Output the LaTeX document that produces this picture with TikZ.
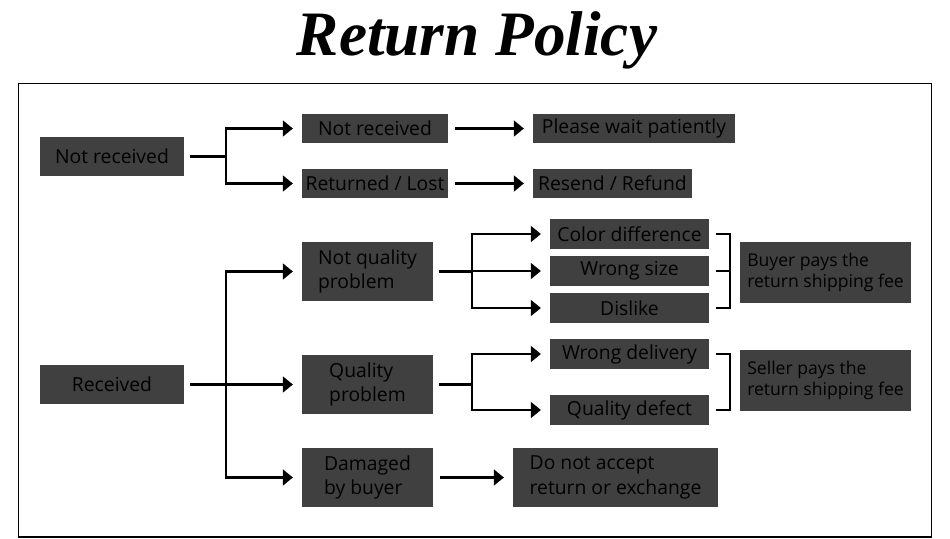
\documentclass[tikz,border=0pt]{standalone}
\usepackage{fontspec}
\setmainfont{Open Sans}
\newfontfamily\titlefont{Liberation Serif}
\usetikzlibrary{arrows.meta}
\definecolor{boxgray}{HTML}{404040}
\tikzset{
  box/.style={fill=boxgray, text=black, inner sep=2pt, font=\fontsize{11}{14}\selectfont, align=left},
  smallbox/.style={box, font=\fontsize{10}{12}\selectfont},
  line/.style={line width=1.2pt, black},
  arr/.style={line, -{Triangle[length=5.7pt,width=9pt]}, shorten >=5pt}
}

\begin{document}
\begin{tikzpicture}[x=0.02cm,y=-0.02cm]
                \useasboundingbox (0,0) rectangle (950,538);
                %title and outer frame
                \node (title) at (477,40) {\titlefont\fontsize{36}{40}\selectfont\bfseries\itshape Return Policy};
                \draw[line width=0.7pt] (18.5,83.5) rectangle (931.5,537);

                %first group, parcel not received
                \node (A) at (112,156.5) [box, minimum width=28.8mm, minimum height=7.8mm]{Not received};
                \node (B) at (375,128.5) [box, minimum width=29.2mm, minimum height=5.8mm]{Not received};
                \node (C) at (375,183.5) [box, minimum width=29.2mm, minimum height=5.8mm]{Returned / Lost};
                \node (D) at (634,128.5) [box, minimum width=40.4mm, minimum height=5.8mm]{Please wait patiently};
                \node (E) at (612.5,183.5) [box, minimum width=31.8mm, minimum height=5.8mm]{Resend / Refund};

                \coordinate (j1) at (226,156.5);
                \draw[line, shorten <=3.4pt] (A.east) -- (j1);
                \draw[arr] (j1) |- (B.west);
                \draw[arr] (j1) |- (C.west);
                \draw[arr, shorten <=4pt] (B.east) -- (D.west);
                \draw[arr, shorten <=4pt] (C.east) -- (E.west);

                %second group, parcel received
                \node (F) at (112,384.5) [box, minimum width=28.8mm, minimum height=7.8mm]{Received};
                \node (G) at (367.5,271.5) [box, minimum width=26.2mm, minimum height=11.8mm]{Not quality\\problem};
                \node (H) at (367.5,384.5) [box, minimum width=26.2mm, minimum height=11.8mm]{Quality\\problem};
                \node (I) at (367.5,477.5) [box, minimum width=26.2mm, minimum height=11.8mm]{Damaged\\by buyer};
                \node (J) at (615.5,477.5) [box, minimum width=41mm, minimum height=11.8mm]{Do not accept\\return or exchange};

                \coordinate (j2) at (226,384.5);
                \draw[line, shorten <=3.4pt] (F.east) -- (j2);
                \draw[arr] (j2) |- (G.west);
                \draw[arr] (j2) -- (H.west);
                \draw[arr] (j2) |- (I.west);
                \draw[arr, shorten <=4pt] (I.east) -- (J.west);

                %reasons that are not about quality
                \node (K) at (629.5,234) [box, minimum width=31.8mm, minimum height=6mm]{Color difference};
                \node (L) at (629.5,271) [box, minimum width=31.8mm, minimum height=6mm]{Wrong size};
                \node (M) at (629.5,308) [box, minimum width=31.8mm, minimum height=6mm]{Dislike};
                \node (P) at (825.5,272.5) [smallbox, minimum width=34.2mm, minimum height=12.2mm]{Buyer pays the\\return shipping fee};

                \coordinate (j3) at (472,271.5);
                \draw[line, shorten <=3pt] (G.east) -- (j3);
                \draw[arr] (j3) |- (K.west);
                \draw[arr] (j3) |- (L.west);
                \draw[arr] (j3) |- (M.west);
                \draw[line] ([xshift=4pt]K.east) -| ([xshift=12pt]M.east) -- ([xshift=4pt]M.east);
                \draw[line] ([xshift=4pt]L.east) -- ([xshift=12pt]L.east);

                %reasons about quality
                \node (N) at (629.5,354) [box, minimum width=31.8mm, minimum height=6mm]{Wrong delivery};
                \node (O) at (629.5,410) [box, minimum width=31.8mm, minimum height=6mm]{Quality defect};
                \node (Q) at (825.5,380.5) [smallbox, minimum width=34.2mm, minimum height=12.2mm]{Seller pays the\\return shipping fee};

                \coordinate (j4) at (472,384.5);
                \draw[line, shorten <=3pt] (H.east) -- (j4);
                \draw[arr] (j4) |- (N.west);
                \draw[arr] (j4) |- (O.west);
                \draw[line] ([xshift=4pt]N.east) -| ([xshift=12pt]O.east) -- ([xshift=4pt]O.east);
\end{tikzpicture}
\end{document}
